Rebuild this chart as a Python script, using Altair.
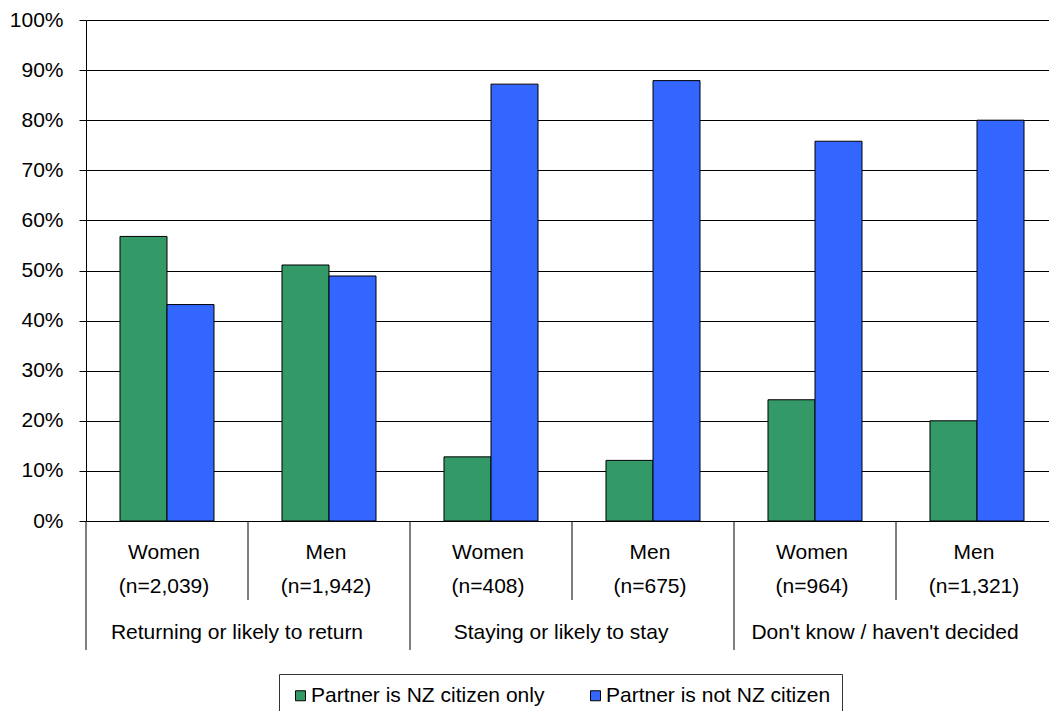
import altair as alt
import pandas as pd

# Survey results: share of respondents by partner's citizenship
groups = ["Returning or likely to return", "Staying or likely to stay", "Don't know / haven't decided"]
sexes = ["Women", "Men"]
sample_sizes = ["(n=2,039)", "(n=1,942)", "(n=408)", "(n=675)", "(n=964)", "(n=1,321)"]
series = ["Partner is NZ citizen only", "Partner is not NZ citizen"]
nz_citizen_only = [0.568, 0.511, 0.128, 0.121, 0.242, 0.200]
not_nz_citizen = [0.432, 0.489, 0.872, 0.879, 0.758, 0.800]
colors = ["#339966", "#3366FF"]

FONT = "Liberation Sans"
FS = 21

columns = []
for g in groups:
    for s in sexes:
        columns.append(f"{g}|{s}")

rows = []
for i, col in enumerate(columns):
    rows.append({"col": col, "series": series[0], "value": nz_citizen_only[i]})
    rows.append({"col": col, "series": series[1], "value": not_nz_citizen[i]})
bars_df = pd.DataFrame(rows)

labels_df = pd.DataFrame({
    "col": columns,
    "sex": [c.split("|")[1] for c in columns],
    "n": sample_sizes,
})
group_df = pd.DataFrame({"col": [f"{g}|Women" for g in groups], "group": groups})

# separators below the axis: short ones between sexes, long ones between groups
short_sep = pd.DataFrame({"col": [columns[i] for i in (1, 3, 5)]})
long_sep = pd.DataFrame({"col": [columns[i] for i in (0, 2, 4)]})

W, H = 962, 501
# the category band runs slightly past the right edge of the page
x_scale = alt.Scale(paddingInner=0, paddingOuter=0, range=[0, 972])

bars = alt.Chart(bars_df).mark_bar(stroke="black", strokeWidth=1).encode(
    x=alt.X("col:N", sort=columns, scale=x_scale, axis=None),
    xOffset=alt.XOffset("series:N", sort=series,
                        scale=alt.Scale(paddingOuter=0.723, paddingInner=0)),
    y=alt.Y("value:Q", scale=alt.Scale(domain=[0, 1]),
            axis=alt.Axis(format=".0%", values=[i / 10 for i in range(11)],
                          title=None, grid=True)),
    color=alt.Color("series:N", sort=series,
                    scale=alt.Scale(domain=series, range=colors),
                    legend=alt.Legend(title=None, orient="none", legendX=193, legendY=654,
                                      direction="horizontal")),
)

short_rules = alt.Chart(short_sep).mark_rule(color="black", strokeWidth=1).encode(
    x=alt.X("col:N", sort=columns, bandPosition=0),
    y=alt.value(H), y2=alt.value(H + 79),
)
long_rules = alt.Chart(long_sep).mark_rule(color="black", strokeWidth=1).encode(
    x=alt.X("col:N", sort=columns, bandPosition=0),
    y=alt.value(H), y2=alt.value(H + 129),
)

sex_text = alt.Chart(labels_df).mark_text(font=FONT, fontSize=FS, color="black",
                                          baseline="middle", dx=-3).encode(
    x=alt.X("col:N", sort=columns), y=alt.value(H + 32), text="sex:N")
n_text = alt.Chart(labels_df).mark_text(font=FONT, fontSize=FS, color="black",
                                        baseline="middle", dx=-3).encode(
    x=alt.X("col:N", sort=columns), y=alt.value(H + 66), text="n:N")
group_text = alt.Chart(group_df).mark_text(font=FONT, fontSize=FS, color="black",
                                           baseline="middle", dx=-11).encode(
    x=alt.X("col:N", sort=columns, bandPosition=1), y=alt.value(H + 112), text="group:N")

chart = alt.layer(bars, short_rules, long_rules, sex_text, n_text, group_text).properties(
    width=W, height=H,
    autosize=alt.AutoSizeParams(type="none"),
    padding={"left": 86, "top": 20, "right": 1, "bottom": 190},
).configure_view(stroke=None).configure_axisY(
    domainColor="black", domainWidth=1,
    gridColor="black", gridWidth=1,
    tickColor="black", tickSize=7, tickWidth=1,
    labelFont=FONT, labelFontSize=FS, labelColor="black", labelPadding=16,
).configure_legend(
    labelFont=FONT, labelFontSize=FS, labelColor="black", labelLimit=0,
    symbolType="square", symbolSize=100, symbolStrokeColor="black", symbolStrokeWidth=1,
    strokeColor="#333333", padding=11, columnPadding=40, labelOffset=0,
)

chart.save("out.html", embed_options={"renderer": "svg", "actions": False})
